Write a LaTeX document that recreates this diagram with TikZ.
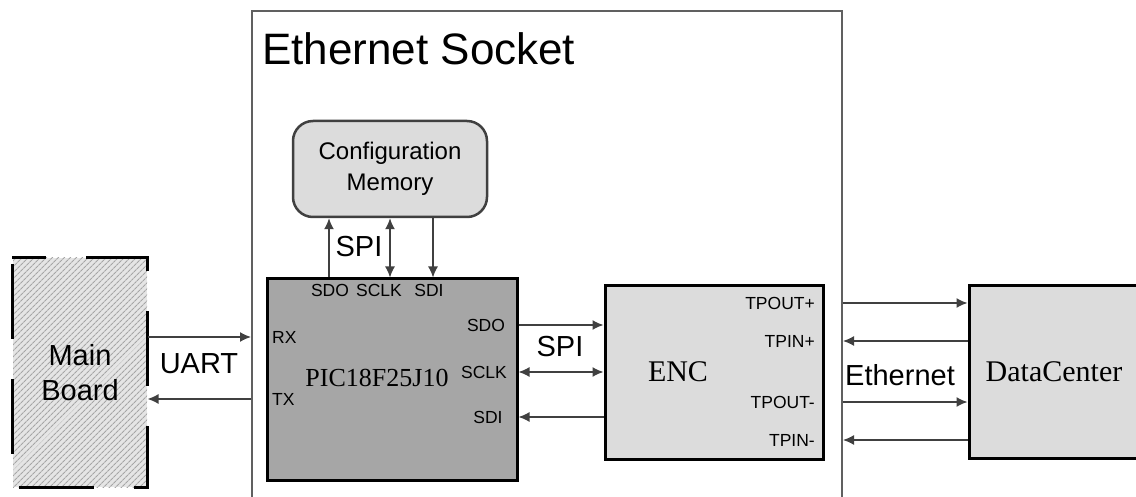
\documentclass[tikz,border=0pt]{standalone}
\usepackage{fontspec}
\setmainfont{Liberation Serif}
\setsansfont{Liberation Sans}
\usetikzlibrary{arrows.meta, patterns.meta}
\definecolor{wire}{HTML}{404040}
\definecolor{sockline}{HTML}{606060}
\definecolor{picgray}{HTML}{A6A6A6}
\definecolor{boxgray}{HTML}{DCDCDC}

\begin{document}
\begin{tikzpicture}[x = 1pt, y = -1pt,
		block/.style = {draw = black, line width = 3pt, fill = boxgray, inner sep = 0pt},
		pinlabel/.style = {font = \sffamily\fontsize{17.5}{20}\selectfont, inner sep = 0pt},
		buslabel/.style = {font = \sffamily\fontsize{29}{35}\selectfont, inner sep = 0pt},
		arr/.style = {draw = wire, line width = 1.4pt, -{Latex[length = 11pt, width = 10pt]}},
		biarr/.style = {draw = wire, line width = 1.4pt, {Latex[length = 11pt, width = 10pt]}-{Latex[length = 11pt, width = 10pt]}}]
		\useasboundingbox (0, 0) rectangle (1136, 497);
		\clip (0, 0) rectangle (1136, 497);
		% socket frame
		\node[draw = sockline, line width = 2pt, minimum width = 590pt, minimum height = 540pt, inner sep = 0pt] (sock) at (547, 281) {};
		\node[anchor = base west, font = \sffamily\fontsize{44}{50}\selectfont, inner sep = 0pt] (socktitle) at (262, 65) {Ethernet Socket};
		% main board
		\node[minimum width = 134pt, minimum height = 229pt, inner sep = 0pt, preaction = {fill = gray!20}, pattern = {Lines[angle = 45, distance = 4pt, line width = 1.1pt]}, pattern color = gray!70, align = center, font = \sffamily\fontsize{29}{35}\selectfont] (mb) at (80, 372.5) {Main\\Board};
		\draw[line width = 3pt, dash pattern = on 75pt off 40pt, dash phase = 41pt] (mb.north west) -- (mb.north east) -- (mb.south east) -- (mb.south west) -- cycle;
		% PIC
		\node[block, fill = picgray, minimum width = 250pt, minimum height = 201pt] (pic) at (392, 379.5) {};
		\node[inner sep = 0pt, font = \fontsize{26}{30}\selectfont] (picname) at (377, 378) {PIC18F25J10};
		\node[pinlabel] (picsdotop) at (330, 290) {SDO};
		\node[pinlabel] (picsclktop) at (379, 290) {SCLK};
		\node[pinlabel] (picsditop) at (429, 290) {SDI};
		\node[pinlabel, anchor = west] (rx) at (272, 337) {RX};
		\node[pinlabel, anchor = west] (tx) at (272, 399) {TX};
		\node[pinlabel] (picsdo) at (486, 325) {SDO};
		\node[pinlabel] (picsclk) at (484, 372) {SCLK};
		\node[pinlabel] (picsdi) at (488, 417) {SDI};
		% configuration memory
		\node[draw = wire, line width = 2.5pt, rounded corners = 20pt, fill = boxgray, minimum width = 194pt, minimum height = 96pt, align = center, font = \sffamily\fontsize{24}{31}\selectfont] (cfg) at (390, 169) {Configuration\\Memory};
		\coordinate (cfgdo) at (329, 0);
		\coordinate (cfgclk) at (390, 0);
		\coordinate (cfgdi) at (433, 0);
		\draw[arr] (pic.north -| cfgdo) -- (cfg.south -| cfgdo);
		\draw[biarr] (pic.north -| cfgclk) -- (cfg.south -| cfgclk);
		\draw[arr] (cfg.south -| cfgdi) -- (pic.north -| cfgdi);
		\node[buslabel] (spitop) at (359, 247) {SPI};
		% ENC
		\node[block, minimum width = 218pt, minimum height = 173pt] (enc) at (714, 372.5) {};
		\node[inner sep = 0pt, font = \fontsize{30}{34}\selectfont] (encname) at (678, 372) {ENC};
		\node[pinlabel, anchor = east] (tpoutp) at (815, 303) {TPOUT+};
		\node[pinlabel, anchor = east] (tpinp) at (815, 341) {TPIN+};
		\node[pinlabel, anchor = east] (tpoutm) at (815, 402) {TPOUT-};
		\node[pinlabel, anchor = east] (tpinm) at (815, 440) {TPIN-};
		% data center
		\node[block, minimum width = 170pt, minimum height = 172pt, font = \fontsize{30}{34}\selectfont] (dc) at (1054, 372) {DataCenter};
		% UART
		\draw[arr] (mb.east |- rx) -- (sock.west |- rx);
		\draw[arr] (sock.west |- tx) -- (mb.east |- tx);
		\node[buslabel] (uart) at (199, 364) {UART};
		% SPI to ENC
		\draw[arr] (pic.east |- picsdo) -- (enc.west |- picsdo);
		\draw[biarr] (pic.east |- picsclk) -- (enc.west |- picsclk);
		\draw[arr] (enc.west |- picsdi) -- (pic.east |- picsdi);
		\node[buslabel] (spi) at (560, 347) {SPI};
		% Ethernet
		\draw[arr] (sock.east |- tpoutp) -- (dc.west |- tpoutp);
		\draw[arr] (dc.west |- tpinp) -- (sock.east |- tpinp);
		\draw[arr] (sock.east |- tpoutm) -- (dc.west |- tpoutm);
		\draw[arr] (dc.west |- tpinm) -- (sock.east |- tpinm);
		\node[buslabel] (eth) at (900, 375) {Ethernet};
	\end{tikzpicture}
\end{document}
